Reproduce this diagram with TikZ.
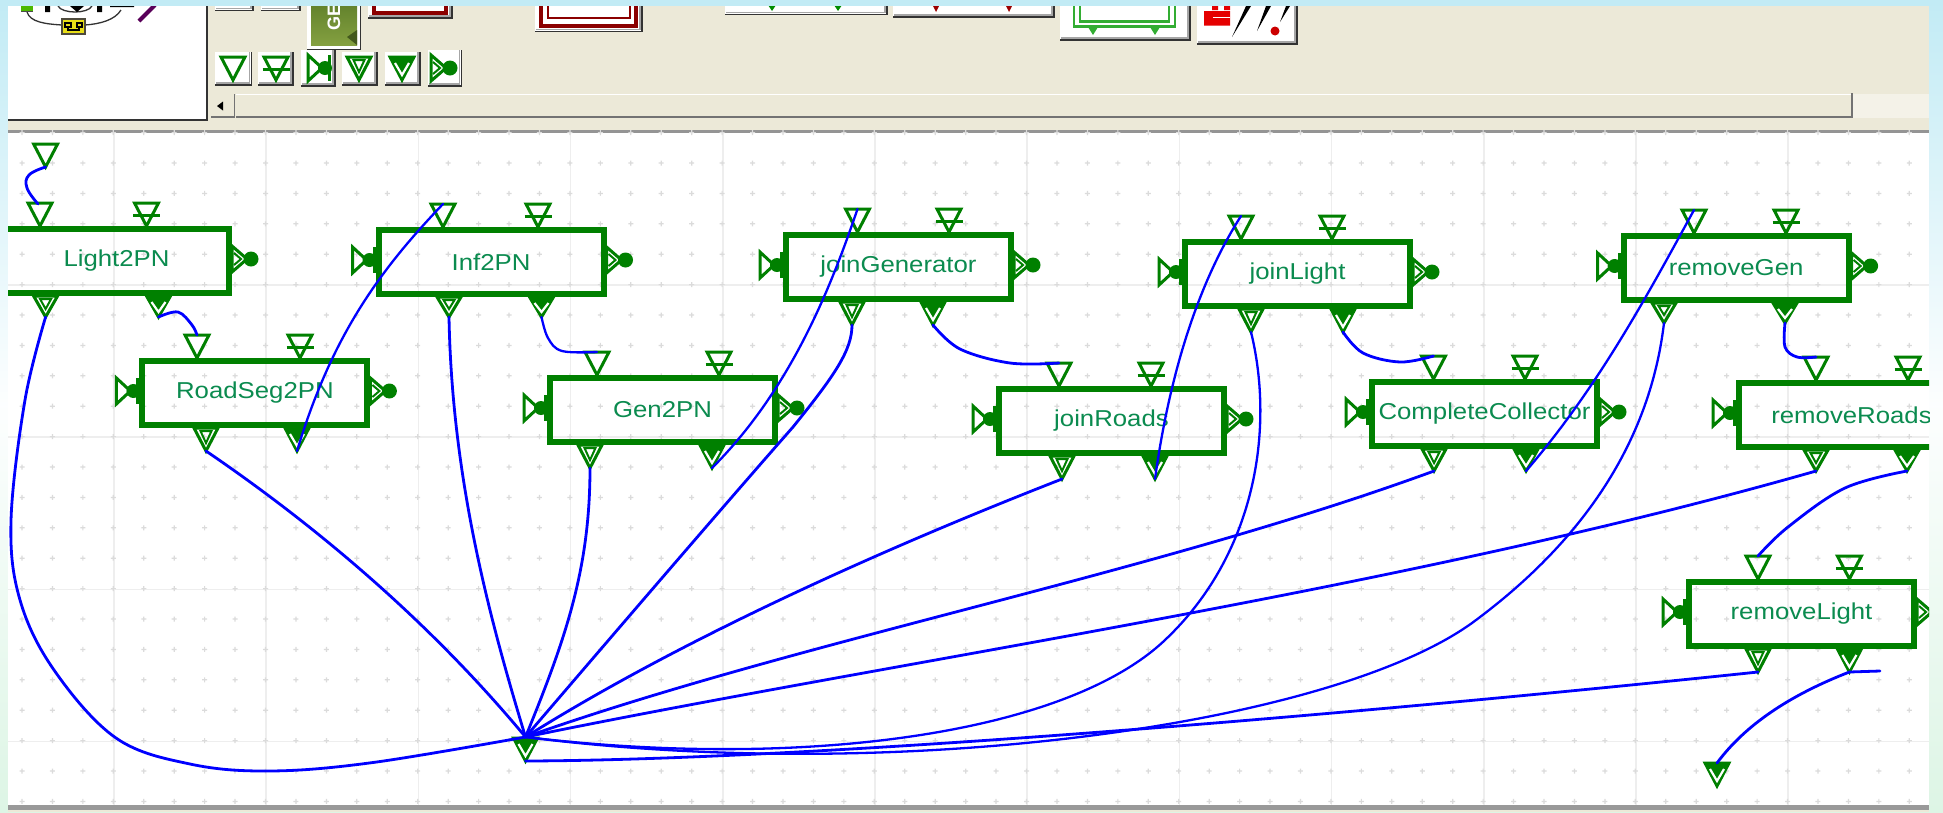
\documentclass[tikz,border=0pt]{standalone}
\usepackage{fontspec}
\setmainfont{Liberation Sans}
\newfontfamily\lblfont[FakeStretch=1.12]{Liberation Sans}
\definecolor{portgreen}{HTML}{008000}
\definecolor{labelgreen}{HTML}{0B8B4F}
\definecolor{wireblue}{HTML}{0000FF}
\definecolor{cream}{HTML}{ECE9D8}
\definecolor{skyblue}{HTML}{C2EBF5}
\definecolor{palegreen}{HTML}{DDF5E5}
\definecolor{gridline}{HTML}{EEEEEE}
\definecolor{griddot}{HTML}{DBDBDB}
\definecolor{darkred}{HTML}{8B0000}
\tikzset{
  x=1pt,y=-1pt,
  port/.style={draw=portgreen,line width=3pt,line join=miter},
  blkbox/.style={rectangle,draw=portgreen,line width=6pt,minimum width=225pt,minimum height=64pt,
     inner sep=0pt,outer sep=0pt,text=labelgreen,font=\lblfont\fontsize{23}{26}\selectfont},
  wire/.style={draw=wireblue,line width=2.8pt,line join=round,line cap=round},
  thinwire/.style={wire,line width=2.3pt},
}
\newcommand\btnbox[4]{% x1 y1 x2 y2
  \fill[white] (#1,#2) rectangle (#3,#4);
  \draw[black!80,line width=1.8pt] (#1,#4) -- (#3,#4) -- (#3,#2);
  \draw[black!35,line width=1.2pt] (#1+1,#4-2) -- (#3-2,#4-2) -- (#3-2,#2);
}
\newcommand\ptop[3]{% name x apexY
  \coordinate (#1) at (#2,{#3-23});
  \coordinate (#1-a) at (#2,#3);
  \draw[port] (#2-12,#3-23) -- (#2+12,#3-23) -- (#2,#3) -- cycle;
}
\newcommand\ptopbar[3]{%
  \coordinate (#1) at (#2,{#3-23});
  \draw[port] (#2-12,#3-23) -- (#2+12,#3-23) -- (#2,#3) -- cycle;
  \draw[port] (#2-13.5,#3-11) -- (#2+13.5,#3-11);
}
\newcommand\pbota[4]{% name x baseY h
  \coordinate (#1) at (#2,{#3+#4});
  \draw[port] (#2-12,#3) -- (#2+12,#3) -- (#2,#3+#4) -- cycle;
  \draw[port,line width=2pt] (#2-5.5,#3+3) -- (#2+5.5,#3+3) -- (#2,#3+#4-8) -- cycle;
}
\newcommand\pbotb[4]{%
  \coordinate (#1) at (#2,{#3+#4});
  \draw[port,fill=portgreen] (#2-12,#3) -- (#2+12,#3) -- (#2,#3+#4) -- cycle;
  \draw[white,line width=2.2pt] (#2-7,#3+6) -- (#2,#3+#4-5) -- (#2+7,#3+6);
}
\newcommand\pleft[2]{% L y
  \fill[portgreen] (#1-3,#2-13) rectangle (#1,#2+13);
  \fill[portgreen] (#1-6,#2) circle[radius=7pt];
  \draw[port] (#1-23,#2-13) -- (#1-9,#2) -- (#1-23,#2+13) -- cycle;
}
\newcommand\pright[2]{% R y
  \draw[port] (#1,#2-13) -- (#1+15,#2) -- (#1,#2+13) -- cycle;
  \draw[port,line width=2pt] (#1+2,#2-6) -- (#1+9,#2) -- (#1+2,#2+6);
  \fill[portgreen] (#1+19,#2) circle[radius=7.5pt];
}
\newcommand\blk[9]{% name L T label t1 t2 b1 b2 h
  \node[blkbox] (#1) at ({#2+115.5},{#3+35}) {#4};
  \ptop{#1-t1}{#5}{#3}
  \ptopbar{#1-t2}{#6}{#3}
  \pbota{#1-b1}{#7}{#3+70}{#9}
  \pbotb{#1-b2}{#8}{#3+70}{#9}
  \pleft{#2}{#3+33}
  \pright{#2+231}{#3+33}
}
\begin{document}
\begin{tikzpicture}
\useasboundingbox (0,0) rectangle (1943,812);
% outer background
\shade[top color=skyblue,bottom color=palegreen,middle color=white!96!skyblue] (0,0) rectangle (1943,812);
\fill[skyblue] (0,0) rectangle (1943,6);
\begin{scope}
\clip (8,6) rectangle (1929,812);
% window
\fill[cream] (8,6) rectangle (1929,812);
% canvas
\fill[white] (8,133) rectangle (1929,808);
\fill[black!42] (8,129.5) rectangle (1929,133);
\fill[black!40] (8,805) rectangle (1929,810);
\foreach \gx in {114,266.2,418.4,570.6,722.8,875,1027.2,1179.4,1331.6,1483.8,1636,1788.2}
  \draw[gridline,line width=1.5pt] (\gx,133) -- (\gx,805);
\foreach \gy in {285,437,589.5,741.5}
  \draw[gridline,line width=1.5pt] (8,\gy) -- (1929,\gy);
\foreach \i in {0,...,62}
  \foreach \j in {-1,0,...,21}
    \fill[griddot] ({22+30.44*\i-2.5},{163+30.4*\j-.6}) rectangle ++(5,1.2)
                   ({22+30.44*\i-.6},{163+30.4*\j-2.5}) rectangle ++(1.2,5);
% tree panel
\fill[white] (8,6) rectangle (207,120);
\draw[black!80,line width=2pt] (8,120) -- (207,120) -- (207,6);
\draw[black!80,line width=1.3pt] (27,12) .. controls (30,22) and (45,24) .. (62,25);
\draw[black!80,line width=1.3pt] (85,25) .. controls (100,24) and (115,20) .. (121,10);
\draw[black!80,line width=1.3pt] (58,6) .. controls (62,14) and (88,14) .. (92,6);
\fill[black] (45,6) rectangle (50,12) (97,6) rectangle (102,12) (110,5.5) rectangle (134,7);
\fill[black] (70,6) -- (84,6) -- (77,12) -- cycle;
\fill[black!80!yellow] (61,18) rectangle (86,35);
\fill[yellow!90!black] (63,20) rectangle (84,33);
\draw[black,line width=1.2pt] (65,23) rectangle (71,27) (77,23) rectangle (82,27) (68,27) -- (68,30) -- (79,30) -- (79,27);
\fill[green!60!black!70!yellow] (21,6) rectangle (33,11);
\draw[black!70,line width=1pt] (21,11) -- (33,11);
\draw[violet!70!black,line width=4.2pt] (139,21) -- (155,5);
% top row buttons
\btnbox{215}{0}{253}{10.5}
\btnbox{261}{0}{300}{10.5}
\fill[white] (307,0) rectangle (360,49);
\definecolor{oliveA}{HTML}{5F7F2A}
\definecolor{oliveB}{HTML}{84A040}
\shade[top color=oliveA,bottom color=oliveB] (311,0) rectangle (357,45);
\fill[oliveA!70!black] (357,45) -- (347,37) -- (357,30) -- cycle;
\draw[black!80,line width=1.8pt] (307,49.5) -- (360.5,49.5) -- (360.5,0);
\node[rotate=90,text=white,font=\bfseries\fontsize{18}{20}\selectfont,inner sep=0pt] (genbtn) at (334,17) {GE};
\btnbox{368}{0}{452}{18}
\draw[darkred,line width=4pt] (374,0) -- (374,13) -- (446,13) -- (446,0);
\btnbox{535}{0}{642}{31.5}
\draw[darkred,line width=3.6pt] (541,0) -- (541,26) -- (636,26) -- (636,0);
\draw[darkred,line width=2.6pt] (548,0) -- (548,18) -- (630,18) -- (630,0);
\btnbox{725}{0}{887}{14.5}
\fill[green!55!black] (768,5) -- (776,5) -- (772,11) -- cycle (834,5) -- (842,5) -- (838,11) -- cycle;
\btnbox{893}{0}{1054}{17}
\fill[darkred!85!red] (932,4) -- (940,4) -- (936,12) -- cycle (1005,4) -- (1013,4) -- (1009,12) -- cycle;
\btnbox{1060}{0}{1190}{40}
\draw[green!60!black!80,line width=2.4pt] (1074,0) -- (1074,26.5) -- (1175,26.5) -- (1175,0);
\draw[green!60!black!80,line width=2.4pt] (1080,0) -- (1080,21.5) -- (1169,21.5) -- (1169,0);
\fill[green!60!black!80] (1088,27) -- (1098,27) -- (1093,35) -- cycle (1150,27) -- (1160,27) -- (1155,35) -- cycle;
\btnbox{1197}{0}{1297}{44}
\fill[red!90!black] (1204,11) rectangle (1230,25.5) (1212,5) rectangle (1218,10) (1224,5) rectangle (1230,10);
\fill[white] (1213,16.5) rectangle (1230,18.2);
\fill[black] (1232,37) -- (1246,6) -- (1251,6) -- cycle (1257,31) -- (1266,6) -- (1271,6) -- cycle (1280,22) -- (1286,6) -- (1290,6) -- cycle;
\fill[red!80!black] (1275,31) circle[radius=4.5pt];
% icon row
\btnbox{215}{52}{251.5}{85}
\ptop{icoa}{233}{80}
\btnbox{258}{52}{293}{85}
\ptopbar{icob}{276}{80}
\btnbox{301}{50}{335}{86}
\pleft{331}{68}
\btnbox{342}{52}{377}{85}
\pbota{icoc}{359}{57}{23}
\btnbox{385}{52}{420}{85}
\pbotb{icod}{402}{57}{23}
\btnbox{428}{50}{461.5}{86}
\pright{431}{68}
% scrollbar
\fill[cream] (211,94) rectangle (234.5,117);
\draw[black!55,line width=1.4pt] (234.5,94) -- (234.5,117) -- (211,117);
\fill[black] (223,101.5) -- (223,110.5) -- (217,106) -- cycle;
\fill[cream!60!white] (1853,94) rectangle (1929,118);
\draw[white,line width=1.3pt] (236,94.5) -- (1852,94.5);
\draw[black!55,line width=2pt] (236,117) -- (1852,117) -- (1852,93);
% blocks
\blk{light}{1}{226}{Light2PN}{40}{146.5}{45.6}{158.5}{21}
\blk{inf}{375.5}{227}{Inf2PN}{443}{538}{449}{541.5}{20}
\blk{road}{139.4}{358}{RoadSeg2PN}{197}{300}{206}{297}{23}
\blk{gen}{547}{375}{Gen2PN}{597}{719}{590}{712}{23}
\blk{jgen}{783}{232}{joinGenerator}{857.5}{949}{852}{933}{23}
\blk{jlight}{1182}{239}{joinLight}{1241}{1332}{1251}{1343}{23}
\blk{rgen}{1620.6}{233}{removeGen}{1694}{1786}{1664}{1785}{20}
\blk{jroad}{996}{386}{joinRoads}{1059}{1151}{1062}{1155}{23}
\blk{coll}{1369}{379}{CompleteCollector}{1433.5}{1525}{1434}{1526}{22}
\blk{rroad}{1736}{380}{removeRoads}{1816}{1908}{1816}{1907}{21}
\blk{rlight}{1686}{579}{removeLight}{1758}{1849.4}{1758}{1849.4}{23}
% free ports
\ptop{start}{45.6}{167}
\pbotb{hub}{525.5}{738}{23}
\coordinate (hubtop) at (525.5,737);
\pbotb{sink}{1717}{763}{23}
\coordinate (sinktop) at (1717,763);
\coordinate (stub) at (1880,671);
% wires
\draw[wire] plot[smooth,tension=.7] coordinates {(start-a) (29,175) (27,188) (38,204)};
\draw[wire] plot[smooth,tension=.6] coordinates {(light-b2) (178,312) (192,325) (road-t1)};
\draw[thinwire] (road-b2) .. controls (332,335) and (380,270) .. (inf-t1);
\draw[wire] (road-b1) .. controls (300,515) and (420,610) .. (hubtop);
\draw[wire] plot[smooth,tension=.6] coordinates {(light-b1) (25,400) (11,521) (20,600) (54,670) (116,738) (190,764) (270,771) (373,762.5) (hubtop)};
\draw[wire] (inf-b1) .. controls (452,480) and (490,620) .. (hubtop);
\draw[thinwire] plot[smooth,tension=.6] coordinates {(inf-b2) (548,338) (562,351) (gen-t1)};
\draw[wire] (gen-b1) .. controls (590,570) and (565,640) .. (hubtop);
\draw[thinwire] (gen-b2) .. controls (790,390) and (830,290) .. (jgen-t1);
\draw[wire] (jgen-b1) .. controls (852,350) and (835,375) .. (793,427) .. controls (720,510) and (600,650) .. (hubtop);
\draw[wire] plot[smooth,tension=.6] coordinates {(jgen-b2) (960,349) (1010,363) (jroad-t1)};
\draw[wire] (jroad-b1) .. controls (880,550) and (680,640) .. (hubtop);
\draw[thinwire] (jroad-b2) .. controls (1170,370) and (1200,280) .. (jlight-t1);
\draw[thinwire] (jlight-b1) .. controls (1275,430) and (1255,555) .. (1165,640) .. controls (1065,735) and (800,770) .. (hubtop);
\draw[wire] plot[smooth,tension=.6] coordinates {(jlight-b2) (1363,353) (1400,362) (coll-t1)};
\draw[wire] (coll-b1) .. controls (1150,575) and (800,640) .. (hubtop);
\draw[thinwire] (coll-b2) .. controls (1600,385) and (1650,290) .. (rgen-t1);
\draw[thinwire] (rgen-b1) .. controls (1650,440) and (1585,540) .. (1472,623) .. controls (1330,725) and (900,785) .. (hubtop);
\draw[wire] plot[smooth,tension=.6] coordinates {(rgen-b2) (1785,347) (1797,357) (rroad-t1)};
\draw[wire] (rroad-b1) .. controls (1400,590) and (900,660) .. (hubtop);
\draw[wire] plot[smooth,tension=.6] coordinates {(rroad-b2) (1845,488) (1788,527) (rlight-t1)};
\draw[wire] (rlight-b1) .. controls (1300,720) and (800,760) .. (hub);
\draw[wire] (stub) -- (rlight-b2);
\draw[wire] (rlight-b2) .. controls (1790,695) and (1745,725) .. (sinktop);
\end{scope}
\end{tikzpicture}
\end{document}
